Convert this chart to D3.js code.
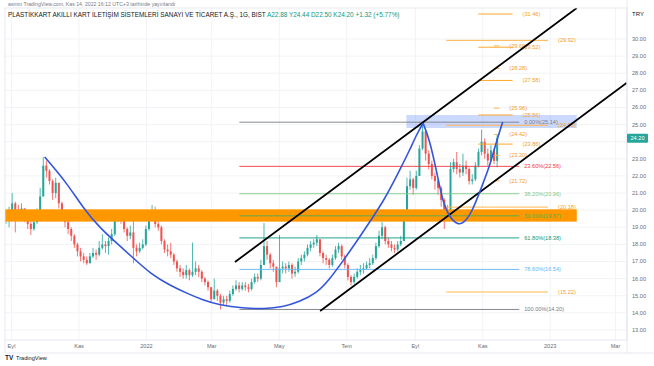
<!DOCTYPE html>
<html><head><meta charset="utf-8">
<script src="https://cdn.jsdelivr.net/npm/d3@7/dist/d3.min.js"></script>
<style>html,body{margin:0;padding:0;background:#fff;overflow:hidden}svg{display:block}text{font-family:"Liberation Sans",Arial,sans-serif}</style>
</head><body><svg id="c" width="654" height="366"></svg>
<script>
// ---------- DATA ----------
const firstDate = "2021-08-27", lastDate = "2022-11-14";
// daily-ish candles [open, high, low, close]
const candles = [
[19.4,19.8,19.2,19.6],[19.6,20.2,19.0,19.9],[19.9,21.0,19.8,20.4],[20.4,20.5,18.7,20.0],[20.0,20.3,19.6,19.9],
[19.9,20.4,19.7,20.1],[20.1,20.1,19.3,19.5],[19.5,19.6,18.9,19.2],[19.2,19.3,18.55,18.9],[18.9,19.5,18.8,19.3],
[19.3,20.1,19.2,19.9],[19.9,21.3,19.8,20.8],[20.8,23.1,20.8,22.6],[22.6,22.9,21.9,22.3],[22.3,22.4,21.5,21.7],
[21.7,21.8,20.6,21.0],[21.0,21.9,20.7,21.6],[21.6,21.6,20.1,20.4],[20.4,20.5,19.4,19.6],[19.6,19.8,19.0,19.3],
[19.3,19.4,18.6,18.9],[18.9,19.0,18.2,18.5],[18.5,18.6,17.8,18.0],[18.0,18.1,17.3,17.6],[17.6,17.8,17.0,17.3],
[17.3,17.5,16.9,17.1],[17.1,17.3,16.8,16.9],[16.9,17.5,16.9,17.3],[17.3,17.8,17.2,17.5],[17.5,17.7,17.1,17.4],
[17.4,18.2,17.3,17.8],[17.8,18.6,17.7,18.0],[18.0,18.2,17.5,17.9],[17.9,18.4,17.4,18.2],[18.2,18.9,18.0,18.6],
[18.6,19.6,18.5,19.4],[19.4,20.0,19.3,19.8],[19.8,19.9,19.2,19.4],[19.4,19.5,18.7,18.9],[18.9,19.0,18.2,18.5],
[18.5,19.1,18.3,18.7],[18.7,19.6,16.9,17.8],[17.8,18.0,17.3,17.6],[17.6,18.1,17.5,17.8],[17.8,18.3,17.7,18.0],
[18.0,19.1,17.9,18.9],[18.9,19.9,18.8,19.6],[19.6,20.3,19.4,19.9],[19.9,20.2,19.0,19.2],[19.2,19.5,18.8,19.0],
[19.0,19.1,18.0,18.2],[18.2,18.3,17.5,17.7],[17.7,18.0,17.3,17.6],[17.6,18.1,17.2,17.4],[17.4,17.5,16.8,17.0],
[17.0,17.1,16.4,16.6],[16.6,16.8,16.1,16.4],[16.4,16.6,16.0,16.2],[16.2,16.8,16.0,16.5],[16.5,16.6,15.9,16.2],
[16.2,18.1,16.1,16.4],[16.4,17.0,16.2,16.6],[16.6,16.8,16.1,16.4],[16.4,16.5,15.8,16.0],[16.0,16.1,15.6,15.8],
[15.8,15.9,15.3,15.5],[15.5,15.5,14.6,14.8],[14.8,16.0,14.8,15.3],[15.3,15.4,14.7,15.0],[15.0,15.1,14.2,14.6],
[14.6,15.0,14.4,14.8],[14.8,15.0,14.4,14.7],[14.7,15.3,14.6,15.1],[15.1,15.6,15.0,15.4],[15.4,15.9,15.3,15.6],
[15.6,15.8,15.2,15.4],[15.4,15.8,15.3,15.6],[15.6,15.8,15.3,15.5],[15.5,15.7,15.2,15.4],[15.4,16.0,15.3,15.8],
[15.8,16.3,15.7,16.1],[16.1,16.3,15.8,16.0],[16.0,17.1,15.9,16.8],[16.8,19.25,16.8,17.9],[17.9,18.2,17.1,17.4],
[17.4,17.5,16.6,16.9],[16.9,17.1,16.4,16.7],[16.7,16.7,15.5,15.8],[15.8,18.55,15.8,16.6],[16.6,17.0,16.3,16.7],
[16.7,16.9,16.3,16.6],[16.6,17.0,16.4,16.8],[16.8,16.9,16.0,16.3],[16.3,16.7,16.1,16.4],[16.4,17.2,16.3,17.0],
[17.0,17.4,16.8,17.2],[17.2,17.6,17.0,17.4],[17.4,18.0,17.3,17.8],[17.8,18.2,17.6,18.0],[18.0,18.3,17.8,18.1],
[18.1,18.55,17.9,18.3],[18.3,18.3,17.3,17.5],[17.5,17.6,16.9,17.2],[17.2,17.4,16.8,17.1],[17.1,17.2,16.6,16.8],
[16.8,17.4,16.7,17.2],[17.2,17.9,17.1,17.7],[17.7,18.1,17.5,17.9],[17.9,18.0,17.1,17.3],[17.3,17.4,16.6,16.8],
[16.8,16.9,15.9,16.1],[16.1,16.2,15.6,15.8],[15.8,16.3,15.7,16.1],[16.1,16.6,16.0,16.4],[16.4,16.8,16.2,16.5],
[16.5,16.9,16.3,16.6],[16.6,17.0,16.5,16.8],[16.8,17.2,16.6,16.9],[16.9,17.4,16.8,17.2],[17.2,18.1,17.1,17.9],
[17.9,18.8,17.8,18.5],[18.5,19.3,18.3,19.0],[19.0,19.1,18.0,18.2],[18.2,18.4,17.8,18.0],[18.0,18.2,17.6,17.8],
[17.8,18.0,17.5,17.7],[17.7,18.2,17.6,18.0],[18.0,18.5,17.9,18.2],[18.2,20.0,18.2,19.8],[19.8,21.9,19.8,21.4],
[21.4,22.3,21.2,21.8],[21.8,21.9,20.9,21.3],[21.3,22.3,21.2,22.0],[22.0,23.8,22.0,23.6],[23.6,25.14,23.5,24.6],
[24.6,24.7,22.9,23.3],[23.3,23.5,22.4,22.7],[22.7,22.9,21.8,22.0],[22.0,22.2,21.2,21.7],[21.7,21.8,20.9,21.3],
[21.3,21.4,20.2,20.6],[20.6,20.7,18.9,19.8],[19.8,20.3,19.4,20.0],[20.0,22.8,19.9,22.4],[22.4,23.0,22.2,22.8],
[22.8,23.4,22.1,22.4],[22.4,22.7,21.9,22.2],[22.2,23.3,22.0,22.6],[22.6,22.9,22.1,22.4],[22.4,22.5,21.5,21.7],
[21.7,22.1,21.5,21.8],[21.8,22.8,21.7,22.6],[22.6,23.6,22.5,23.4],[23.4,24.7,23.2,24.0],[24.0,24.2,23.0,23.3],
[23.3,23.6,22.6,22.9],[22.9,23.8,22.8,23.5],[23.5,23.6,22.7,22.88],[22.88,24.44,22.50,24.20]
];
const lastClose = 24.20;
// price-axis labels (24.00 is hidden behind the last-price tag, as in the reference)
const yTicks = [13,14,15,16,17,18,19,20,21,22,23,25,26,27,28,29,30];
const xTickDates = ["2021-09-01","2021-11-01","2022-01-01","2022-03-01","2022-05-01","2022-07-01","2022-09-01","2022-11-01","2023-01-01","2023-03-01"];
const xTickLabels = ["Eyl","Kas","2022","Mar","May","Tem","Eyl","Kas","2023","Mar"];
// Fibonacci retracement (25.14 -> 14.20)
const fibRatios = ["0.00%","23.60%","38.20%","50.00%","61.80%","78.60%","100.00%"];
const fibValues = [25.14,22.56,20.96,19.67,18.38,16.54,14.20];
const fibColors = ["#787b86","#f23645","#81c784","#4caf50","#089981","#64b5f6","#787b86"];
const fibRange = ["2022-03-26","2022-12-04"];
// orange horizontal levels
const levelsLong = [29.92,24.96,20.18,15.22];          const longRange = ["2022-09-29","2022-12-30"];
const levelsMid  = [31.46,29.52,27.58,25.56,23.86];    const midRange  = ["2022-10-28","2022-11-28"];
const levelsShort= [29.60,28.28,25.96,24.42,23.20,21.72]; const shortRange= ["2022-11-11","2022-11-16"];
// zones
const bandPrices = [19.33,20.05]; const bandEnd = "2023-01-25";
const boxPrices = [24.80,25.56];  const boxRange = ["2022-08-24","2023-01-25"];
// channel lines
const upperChannel = [["2022-03-22",16.97],["2023-01-25",31.81]];
const lowerChannel = [["2022-06-07",14.11],["2023-03-11",27.43]];
// blue curves
const cupCurve = [["2021-10-01",23.11],["2021-10-21",21.59],["2021-11-04",20.19],["2021-11-20",18.96],["2021-12-03",18.20],["2021-12-17",17.38],["2022-01-06",16.21],["2022-01-22",15.63],["2022-02-06",15.16],["2022-02-21",14.75],["2022-03-08",14.46],["2022-03-29",14.28],["2022-04-18",14.23],["2022-05-04",14.34],["2022-05-19",14.64],["2022-06-04",15.16],["2022-06-15",15.92],["2022-06-27",16.97],["2022-07-11",18.26],["2022-07-23",19.43],["2022-08-04",20.60],["2022-08-18",22.35],["2022-08-27",23.52],["2022-09-02",24.39],["2022-09-08",25.09]];
const handleCurve = [["2022-09-08",25.09],["2022-09-14",24.10],["2022-09-20",22.35],["2022-09-26",20.42],["2022-10-02",19.60],["2022-10-09",19.14],["2022-10-15",19.25],["2022-10-22",19.84],["2022-10-31",21.36],["2022-11-07",22.52],["2022-11-13",23.93],["2022-11-19",25.15]];
const headerLine1 = "asmm TradingView.com, Kas 14, 2022 16:12 UTC+3 tarihinde yayınlandı";
const headerTitle = "PLASTİKKART AKILLI KART İLETİŞİM SİSTEMLERİ SANAYİ VE TİCARET A.Ş., 1G, BIST";
const headerValues = "A22.88 Y24.44 D22.50 K24.20 +1.32 (+5.77%)";

// ---------- DRAW ----------
const P = d3.timeParse("%Y-%m-%d");
const svg = d3.select("#c");
const L = 5, R = 627, T = 8, B = 340;
const x = d3.scaleTime().domain([P("2021-09-01"), P("2023-03-01")]).range([11.5, 615.5]);
const y = d3.scaleLinear().domain([13, 30]).range([330, 39]);

svg.append("defs").append("clipPath").attr("id","clip").append("rect")
  .attr("x",L).attr("y",T).attr("width",R-L).attr("height",B-T);

// grid
const grid = svg.append("g").attr("clip-path","url(#clip)");
grid.selectAll("line.h").data(d3.range(13,31)).join("line").attr("x1",L).attr("x2",R)
  .attr("y1",d=>y(d)).attr("y2",d=>y(d)).attr("stroke","#f2f3f6").attr("stroke-width",1);
grid.selectAll("line.v").data(xTickDates).join("line").attr("y1",T).attr("y2",B)
  .attr("x1",d=>x(P(d))).attr("x2",d=>x(P(d))).attr("stroke","#f2f3f6").attr("stroke-width",1);

// candles
const t0 = P(firstDate).getTime(), t1 = P(lastDate).getTime();
const cx = i => x(new Date(t0 + (t1 - t0) * i / (candles.length - 1)));
const plot = svg.append("g").attr("clip-path","url(#clip)");
const cg = plot.append("g");
candles.forEach((c,i)=>{
  const [o,h,l,cl] = c, up = cl >= o, col = up ? "#26a69a" : "#ef5350";
  const xx = cx(i);
  cg.append("line").attr("x1",xx).attr("x2",xx).attr("y1",y(h)).attr("y2",y(l)).attr("stroke",col).attr("stroke-width",0.8);
  const top = y(Math.max(o,cl)), bot = y(Math.min(o,cl));
  cg.append("rect").attr("x",xx-1).attr("width",2).attr("y",top).attr("height",Math.max(0.8,bot-top)).attr("fill",col);
});

// orange band
plot.append("rect").attr("x",L).attr("width",x(P(bandEnd))-L)
  .attr("y",y(bandPrices[1])).attr("height",y(bandPrices[0])-y(bandPrices[1])).attr("fill","#ff9800");
// blue box
plot.append("rect").attr("x",x(P(boxRange[0]))).attr("width",x(P(boxRange[1]))-x(P(boxRange[0])))
  .attr("y",y(boxPrices[1])).attr("height",y(boxPrices[0])-y(boxPrices[1])).attr("fill","rgba(41,98,255,0.24)");

// fib lines
const fx0 = x(P(fibRange[0])), fx1 = x(P(fibRange[1]));
fibValues.forEach((v,i)=>{
  plot.append("line").attr("x1",fx0).attr("x2",fx1).attr("y1",y(v)).attr("y2",y(v)).attr("stroke",fibColors[i]).attr("stroke-width",0.9);
  plot.append("text").attr("x",fx1+5).attr("y",y(v)).attr("dy","0.35em").attr("font-size",5.6)
    .attr("fill",fibColors[i]).text(`${fibRatios[i]}(${v.toFixed(2)})`);
});

// orange levels
function levels(vals, range, col, width){
  const a = x(P(range[0])), b = x(P(range[1]));
  vals.forEach(v=>{
    plot.append("line").attr("x1",a).attr("x2",b).attr("y1",y(v)).attr("y2",y(v)).attr("stroke",col).attr("stroke-width",width);
    plot.append("text").attr("x",b+10).attr("y",y(v)).attr("dy","0.35em").attr("font-size",5.6).attr("fill","#f59c2a").text(`(${v.toFixed(2)})`);
  });
}
levels(levelsLong, longRange, "#ffb74d", 1);
levels(levelsMid, midRange, "#ffa726", 1);
levels(levelsShort, shortRange, "#ffb74d", 1);

// channel lines
const ln = d3.line().x(d=>x(P(d[0]))).y(d=>y(d[1]));
[upperChannel, lowerChannel].forEach(c=>plot.append("path").attr("d",ln(c)).attr("stroke","#000").attr("stroke-width",1.8).attr("fill","none"));

// blue curves
const cv = d3.line().x(d=>x(P(d[0]))).y(d=>y(d[1])).curve(d3.curveBasis);
[cupCurve, handleCurve].forEach(c=>plot.append("path").attr("d",cv(c)).attr("stroke","#3355dd").attr("stroke-width",1.6).attr("fill","none"));

// frame
svg.append("rect").attr("x",L).attr("y",T).attr("width",R-L).attr("height",B-T).attr("fill","none").attr("stroke","#e0e3eb").attr("stroke-width",0.8);
svg.append("line").attr("x1",L).attr("x2",654).attr("y1",353).attr("y2",353).attr("stroke","#e0e3eb").attr("stroke-width",0.8);
svg.append("line").attr("x1",R).attr("x2",R).attr("y1",0).attr("y2",353).attr("stroke","#e0e3eb").attr("stroke-width",0.8);
svg.append("line").attr("x1",L).attr("x2",L).attr("y1",B).attr("y2",353).attr("stroke","#e0e3eb").attr("stroke-width",0.8);

// y axis
const ya = svg.append("g");
ya.selectAll("text").data(yTicks).join("text").attr("x",632).attr("y",d=>y(d)).attr("dy","0.35em")
  .attr("font-size",5.6).attr("fill","#6a6d78").text(d=>d.toFixed(2));
ya.append("text").attr("x",632).attr("y",16).attr("font-size",6).attr("fill","#131722").text("TRY");
// last price label
ya.append("rect").attr("x",627).attr("y",y(lastClose)-4.5).attr("width",21).attr("height",9).attr("fill","#26a69a").attr("rx",1);
ya.append("text").attr("x",637.5).attr("y",y(lastClose)).attr("dy","0.35em").attr("text-anchor","middle")
  .attr("font-size",5.6).attr("fill","#fff").text(lastClose.toFixed(2));

// x axis
svg.append("g").selectAll("text").data(xTickDates).join("text").attr("x",d=>x(P(d))).attr("y",348)
  .attr("text-anchor","middle").attr("font-size",5.6).attr("fill","#6a6d78").text((d,i)=>xTickLabels[i]);

// header
svg.append("text").attr("x",8).attr("y",6).attr("font-size",5.2).attr("fill","#787b86").text(headerLine1);
const h2 = svg.append("text").attr("x",8).attr("y",17).attr("font-size",6.4).attr("fill","#131722");
h2.append("tspan").text(headerTitle + "  ");
h2.append("tspan").attr("fill","#089981").text(headerValues);

// logo
svg.append("text").attr("x",5).attr("y",360).attr("font-size",6.5).attr("font-weight","bold").attr("fill","#131722").text("TV");
svg.append("text").attr("x",16).attr("y",360).attr("font-size",5.6).attr("fill","#131722").text("TradingView");
</script></body></html>
